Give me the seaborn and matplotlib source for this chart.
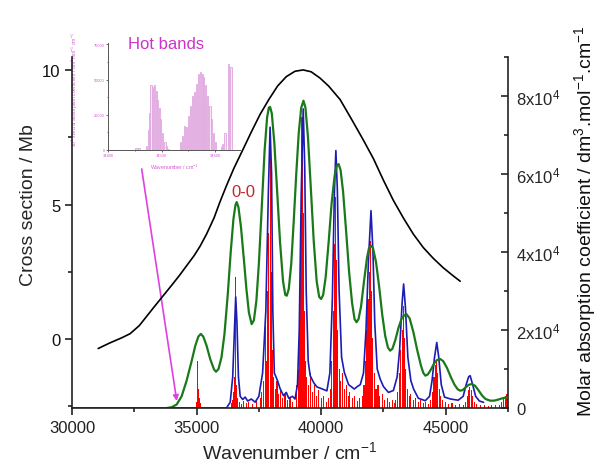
import numpy as np
import pandas as pd
import matplotlib
matplotlib.use('Agg')
import matplotlib.pyplot as plt
import seaborn as sns
from matplotlib.ticker import MultipleLocator

sns.set_theme(style='ticks')
plt.rcParams['font.family'] = ['Liberation Sans', 'DejaVu Sans']
plt.rcParams['mathtext.default'] = 'regular'

# ---------------- data ----------------
# experimental cross section (left axis, Mb)
black_x = [31050, 31500, 32000, 32330, 32700, 33000, 33300, 33650, 34000, 34300,
           34620, 34900, 35140, 35400, 35700, 35940, 36200, 36500, 36870, 37200,
           37550, 37900, 38250, 38600, 38950, 39280, 39600, 39950, 40300, 40760,
           41200, 41690, 42100, 42500, 42900, 43300, 43700, 44100, 44500, 44900,
           45300, 45580]
black_y = [-0.35, -0.15, 0.05, 0.2, 0.5, 0.85, 1.2, 1.6, 2.0, 2.35,
           2.75, 3.1, 3.45, 3.9, 4.5, 5.1, 5.7, 6.35, 7.06, 7.7,
           8.35, 8.9, 9.4, 9.75, 9.95, 10.0, 9.93, 9.7, 9.4, 8.9,
           8.2, 7.4, 6.7, 5.9, 5.15, 4.5, 3.9, 3.4, 3.0, 2.65,
           2.35, 2.15]

# convoluted spectrum (right axis)
green_x = [33800, 34000, 34200, 34400, 34600, 34800, 34950, 35070, 35170, 35270,
           35400, 35550, 35700, 35780, 35880, 36000, 36120, 36250, 36370, 36480,
           36560, 36610, 36680, 36780, 36900, 37000, 37100, 37210, 37300, 37400,
           37500, 37620, 37730, 37830, 37900, 37950, 38020, 38120, 38230, 38350,
           38470, 38560, 38620, 38700, 38800, 38900, 39000, 39100, 39200, 39290,
           39370, 39470, 39580, 39700, 39820, 39920, 40000, 40080, 40180, 40300,
           40420, 40540, 40620, 40700, 40780, 40880, 41000, 41120, 41240, 41340,
           41420, 41500, 41600, 41720, 41840, 41920, 42000, 42080, 42200, 42330,
           42450, 42570, 42680, 42770, 42860, 42980, 43100, 43250, 43420, 43550,
           43700, 43850, 44000, 44100, 44180, 44280, 44400, 44530, 44650, 44780,
           44900, 45050, 45200, 45350, 45480, 45580, 45680, 45800, 45920, 46050,
           46180, 46320, 46460, 46600, 46790, 46950, 47100, 47250, 47400, 47500]
green_y = [0, 200, 900, 3000, 7000, 12000, 16000, 18300, 19000, 18300,
           16000, 12500, 9900, 9300, 10000, 13000, 19000, 29000, 40000, 48500,
           52000, 52800, 51500, 46500, 38000, 30500, 24500, 21500, 22500, 27500,
           37000, 52000, 66000, 74500, 77000, 77200, 75500, 68000, 56000, 42500,
           32500, 29000, 28800, 30500, 37000, 48000, 60000, 70500, 77000, 78800,
           77000, 69500, 57000, 43000, 32500, 28500, 27950, 29000, 33500, 42500,
           52500, 59500, 62000, 62560, 61000, 55500, 45500, 35000, 27000, 22800,
           22000, 22800, 26000, 32500, 38500, 41000, 41600, 41000, 37500, 31000,
           24000, 18500, 15500, 14700, 15200, 17500, 20500, 23300, 24100, 23000,
           19500, 15000, 11000, 9000, 8300, 8600, 9800, 11400, 12300, 12560,
           12000, 10300, 8000, 6000, 4800, 4440, 4600, 5300, 5950, 6150,
           5700, 4500, 3200, 2300, 1880, 1900, 2150, 2450, 2700, 2750]

# simulated spectrum (right axis)
blue_x = [30000, 36200, 36350, 36450, 36520, 36570, 36620, 36680, 36750, 36850,
          36950, 37050, 37200, 37350, 37500, 37650, 37780, 37880, 37950, 38010,
          38060, 38120, 38250, 38350, 38490, 38600, 38700, 38850, 38950, 39050,
          39120, 39200, 39280, 39340, 39400, 39480, 39560, 39700, 39830, 40000,
          40230, 40350, 40450, 40530, 40590, 40650, 40720, 40820, 40930, 41100,
          41330, 41450, 41570, 41700, 41800, 41900, 42000, 42080, 42150, 42250,
          42370, 42500, 42700, 42900, 43050, 43150, 43250, 43310, 43380, 43480,
          43600, 43710, 43900, 44180, 44350, 44450, 44550, 44640, 44720, 44820,
          44950, 45200, 45500, 45700, 45820, 45920, 45980, 46080, 46200, 46350,
          46520]
blue_y = [0, 0, 1500, 8000, 20000, 28500, 22000, 8000, 3000, 2200,
          2800, 1800, 2300, 1500, 3000, 9000, 25000, 55000, 72000, 60000,
          25000, 9000, 7000, 5000, 3150, 4000, 2500, 3000, 2300, 6000,
          20000, 55000, 76700, 62000, 30000, 12000, 8300, 6500, 5400, 5000,
          4400, 9000, 28000, 55000, 66000, 56000, 30000, 13000, 9150, 6000,
          4870, 5500, 6000, 9000, 20000, 38000, 50600, 40000, 22000, 10000,
          7400, 5500, 4000, 4500, 8000, 15000, 27000, 31800, 26000, 13000,
          7000, 4870, 2500, 1880, 3000, 7000, 13000, 16800, 13000, 6000,
          2800, 2300, 2000, 3000, 6000, 8000, 8300, 6000, 3000, 1800,
          1460]

# stick spectrum (right axis)
red_x = [35000, 35050, 35090, 35130, 35170,
         36400, 36450, 36500, 36540, 36570, 36610, 36660, 36720, 36800, 36900,
         37000, 37100, 37250, 37400,
         37550, 37620, 37700, 37750, 37800, 37850, 37900, 37950, 37990, 38030,
         38080, 38150, 38230, 38300, 38380, 38450, 38550, 38650, 38750, 38850,
         39000, 39080, 39130, 39180, 39230, 39280, 39320, 39370, 39420, 39500,
         39580, 39650, 39720, 39800, 39900, 40000, 40100, 40200,
         40300, 40380, 40430, 40480, 40530, 40580, 40620, 40670, 40720, 40780,
         40850, 40920, 41000, 41080, 41150, 41250, 41350, 41450, 41550,
         41650, 41720, 41780, 41830, 41880, 41930, 41970, 42020, 42070, 42130,
         42200, 42280, 42350, 42450, 42550, 42650, 42750, 42850, 42930,
         43000, 43080, 43150, 43200, 43250, 43300, 43350, 43400, 43460, 43530,
         43600, 43700, 43800, 43900, 44000, 44100, 44200, 44300,
         44400, 44470, 44530, 44580, 44630, 44680, 44740, 44800, 44880, 45000,
         45100, 45250, 45400, 45550, 45700,
         45800, 45860, 45920, 45970, 46020, 46080, 46150, 46250, 46400, 46550,
         46700, 46850, 47000, 47150, 47250, 47330, 47400, 47460]
red_y = [1500, 12100, 5000, 2500, 1200,
         1200, 2000, 4000, 8000, 33600, 6000, 2500, 1500, 1000, 1800,
         1200, 1500, 1000, 1800,
         2500, 4000, 7000, 21100, 12000, 30000, 45000, 69800, 35000, 15000,
         8000, 5000, 7000, 3500, 5000, 2500, 3500, 2000, 2500, 1500,
         6000, 10000, 22400, 40000, 74600, 50000, 25000, 12000, 8000, 6000,
         9000, 4000, 6000, 3000, 4500, 2500, 3000, 1500,
         2500, 5000, 12000, 25000, 42000, 54100, 38000, 20000, 10000, 7000,
         9000, 5000, 6000, 3000, 4000, 2500, 3000, 1800, 2500,
         3000, 6000, 12000, 20000, 28000, 35000, 42900, 30000, 18000, 9000,
         5000, 6000, 3000, 3500, 2000, 2500, 1500, 2000, 1200,
         2000, 4000, 9000, 15000, 20000, 26200, 18000, 10000, 5000, 3000,
         3500, 2000, 2500, 1500, 2000, 1200, 1500, 1000,
         2000, 4000, 8000, 11000, 12100, 9000, 5000, 3000, 2000, 1500,
         1000, 1200, 800, 1000, 900,
         1500, 3000, 4500, 5300, 4500, 3000, 1500, 1000, 800, 700,
         600, 800, 700, 800, 1500, 2500, 3000, 3500]

# inset: hot bands (10^4 x molar absorption coefficient)
hot_x = [34452, 34458, 34472, 34475, 34477, 34480, 34483, 34487, 34490, 34492,
         34496, 34498, 34502, 34506, 34509, 34513,
         34535, 34539, 34543, 34546, 34550, 34554, 34557, 34561, 34565, 34569,
         34572, 34576, 34578, 34582, 34586, 34590, 34593, 34597, 34601,
         34611, 34614, 34618, 34624, 34629]
hot_y = [1500, 1500, 3000, 14000, 26000, 46000, 45000, 46000, 41600, 35700,
         30000, 21700, 12400, 5400, 2500, 1000,
         5400, 10000, 17000, 16500, 24000, 31000, 38000, 41500, 47000, 54000,
         55600, 54000, 51500, 46000, 38000, 31000, 21700, 12400, 5400,
         1900, 4200, 12400, 61400, 59000]

x_ticks = [30000, 35000, 40000, 45000]
left_ticks = [0, 5, 10]
right_ticks = [0, 20000, 40000, 60000, 80000]
right_labels = ['0', '2x10$^4$', '4x10$^4$', '6x10$^4$', '8x10$^4$']

# ---------------- figure ----------------
fig = plt.figure(figsize=(6.01, 4.64), dpi=100)
ax = fig.add_axes([0.1198, 0.1185, 0.7255, 0.7565])
ax2 = ax.twinx()

ax2.bar(red_x, red_y, width=45, color='#ff0000', linewidth=0, zorder=1)
sns.lineplot(x=blue_x, y=blue_y, ax=ax2, color='#1c1cb4', lw=1.2, estimator=None, sort=False, zorder=2)
sns.lineplot(x=green_x, y=green_y, ax=ax2, color='#1a7a1a', lw=1.6, estimator=None, sort=False, zorder=3)
sns.lineplot(x=black_x, y=black_y, ax=ax, color='black', lw=1.2, estimator=None, sort=False, zorder=4)

ax.set_xlim(30000, 47500)
ax.set_ylim(-2.56, 10.48)
ax2.set_ylim(0, 90000)

ax.set_zorder(ax2.get_zorder() + 1)
ax.patch.set_visible(False)

for a in (ax, ax2):
    a.spines['top'].set_visible(False)
    for s in a.spines.values():
        s.set_linewidth(1.2)
        s.set_color('#222222')
ax.spines['right'].set_visible(False)
ax2.spines['left'].set_visible(False)
ax2.spines['bottom'].set_visible(False)

ax.set_xticks(x_ticks)
ax.xaxis.set_minor_locator(MultipleLocator(2500))
ax.set_yticks(left_ticks)
ax.yaxis.set_minor_locator(MultipleLocator(2.5))
ax.tick_params(axis='both', which='major', direction='out', length=5, width=1.2, labelsize=12, colors='#222222')
ax.tick_params(axis='both', which='minor', direction='out', length=3, width=1.2, colors='#222222')
ax.tick_params(axis='y', labelcolor='#111111')

ax2.set_yticks(right_ticks, right_labels)
ax2.yaxis.set_minor_locator(MultipleLocator(10000))
ax2.tick_params(axis='y', which='major', direction='in', length=5, width=1.2, labelsize=12, pad=6)
ax2.tick_params(axis='y', which='minor', direction='in', length=3, width=1.2)

ax.set_xlabel('Wavenumber / cm$^{-1}$', fontsize=14, labelpad=4)
ax.set_ylabel('Cross section / Mb', fontsize=14)
ax.yaxis.set_label_coords(-0.08, 0.58)
ax2.set_ylabel('')
ax2.set_xlabel('')
fig.text(585 / 601, 1 - 417 / 464, 'Molar absorption coefficient / dm$^{3}$.mol$^{-1}$.cm$^{-1}$',
         rotation=90, ha='center', va='bottom', fontsize=14, color='#111111')

ax2.text(36870, 55400, '0-0', color='#c0282d', fontsize=12, ha='center', va='center')

# ---------------- inset ----------------
pink = '#d35ad3'
ins = fig.add_axes([0.1797, 0.6746, 0.2196, 0.2306])
ins.patch.set_visible(False)
ins.bar(hot_x, hot_y, width=2.4, color='#f7e6f7', edgecolor='#dfa6df', linewidth=0.6)
ins.set_xlim(34400, 34646)
ins.set_ylim(0, 76000)
ins.spines['top'].set_visible(False)
ins.spines['right'].set_visible(False)
for s in ('left', 'bottom'):
    ins.spines[s].set_color('#555555')
    ins.spines[s].set_linewidth(0.7)
ins.set_xticks([34400, 34500, 34600])
ins.xaxis.set_minor_locator(MultipleLocator(50))
ins.set_yticks([0, 25000, 50000, 75000])
ins.yaxis.set_minor_locator(MultipleLocator(12500))
ins.tick_params(axis='both', which='major', direction='out', length=1.5, width=0.6, color='#555555',
                labelsize=2.9, labelcolor=pink, pad=1)
ins.tick_params(axis='both', which='minor', direction='out', length=1.0, width=0.6, color='#555555')
ins.set_xlabel('Wavenumber / cm$^{-1}$', fontsize=3.8, color=pink, labelpad=3)
ins.set_ylabel('10$^4$ x Molar absorption coefficient / dm$^3$ mol$^{-1}$ cm$^{-1}$', fontsize=3.6, color=pink)
ins.yaxis.set_label_coords(-0.21, 0.57)
fig.text(166 / 601, 1 - 44.5 / 464, 'Hot bands', color='#cc33cc', fontsize=12, ha='center', va='center')

ax2.annotate('', xy=(34205, 1800), xycoords='data',
             xytext=(141.7 / 601, 1 - 170 / 464), textcoords='figure fraction',
             arrowprops=dict(arrowstyle='-|>', color='#e040e0', lw=1.2, mutation_scale=8,
                             shrinkA=0, shrinkB=0))

fig.savefig('out.png', dpi=100)
